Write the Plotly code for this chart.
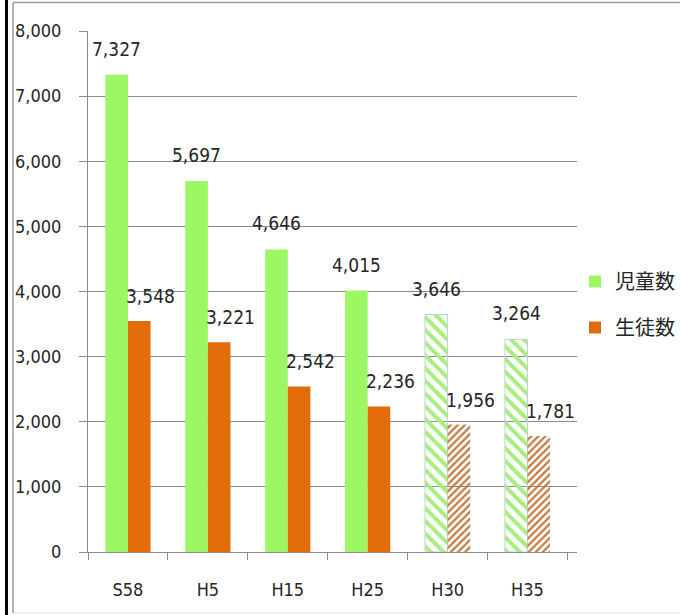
import plotly.graph_objects as go

categories = ["S58", "H5", "H15", "H25", "H30", "H35"]
children = [7327, 5697, 4646, 4015, 3646, 3264]
students = [3548, 3221, 2542, 2236, 1956, 1781]
series_names = ["児童数", "生徒数"]
projected = [False, False, False, False, True, True]

W, H = 680, 615
L, R, T, B = 88, 103, 31, 63
pw, ph = W - L - R, H - T - B

def px_x(p):
    return (p - L) / pw

def px_y(p):
    return (H - B - p) / ph

green = "#9cf763"
orange = "#e36c0a"
green_hatch = "#a6ee7e"
orange_hatch = "#c47a3e"

num_font = "DejaVu Sans Condensed, Liberation Sans Narrow, Liberation Sans, sans-serif"

fig = go.Figure()
fig.add_trace(go.Bar(
    x=categories, y=children, name=series_names[0], legendgroup="a",
    marker=dict(
        color=[green_hatch if p else green for p in projected],
        line=dict(color=["#b5d8c8" if p else green for p in projected],
                  width=[1 if p else 0 for p in projected]),
        pattern=dict(shape=["\\" if p else "" for p in projected],
                     fillmode="replace", bgcolor="white", size=9, solidity=0.45),
    ),
))
fig.add_trace(go.Bar(
    x=categories, y=students, name=series_names[1], legendgroup="b",
    marker=dict(
        color=[orange_hatch if p else orange for p in projected],
        line=dict(width=0),
        pattern=dict(shape=["/" if p else "" for p in projected],
                     fillmode="replace", bgcolor="white", size=5, solidity=0.45),
    ),
))

for c, v in zip(categories, children):
    fig.add_annotation(x=c, y=v, text=f"{v:,}", showarrow=False, xshift=-11.5,
                       yshift=26, font=dict(family=num_font, size=19, color="#262626"))
for c, v in zip(categories, students):
    fig.add_annotation(x=c, y=v, text=f"{v:,}", showarrow=False, xshift=23,
                       yshift=25, font=dict(family=num_font, size=19, color="#262626"))

shapes = [
    dict(type="line", xref="paper", yref="paper", x0=px_x(6.5), x1=px_x(6.5),
         y0=px_y(0), y1=px_y(615), line=dict(color="black", width=3)),
    dict(type="line", xref="paper", yref="paper", x0=px_x(13), x1=px_x(13),
         y0=px_y(3), y1=px_y(613), line=dict(color="#9a9a9a", width=1.5)),
    dict(type="line", xref="paper", yref="paper", x0=px_x(13), x1=px_x(680),
         y0=px_y(2.5), y1=px_y(2.5), line=dict(color="#9a9a9a", width=1.5)),
    dict(type="line", xref="paper", yref="paper", x0=px_x(13), x1=px_x(680),
         y0=px_y(613), y1=px_y(613), line=dict(color="#dddddd", width=1)),
]

fig.update_layout(
    width=W, height=H,
    margin=dict(l=L, r=R, t=T, b=B, autoexpand=False),
    paper_bgcolor="white", plot_bgcolor="white",
    barmode="group", bargap=0.435, bargroupgap=0,
    shapes=shapes,
    showlegend=True,
    legend=dict(x=px_x(575), y=px_y(262), xanchor="left", yanchor="top",
                traceorder="grouped", tracegroupgap=17,
                font=dict(family="Noto Sans CJK JP", size=20, color="#262626"),
                bgcolor="rgba(0,0,0,0)"),
    xaxis=dict(
        type="category", showline=True, linecolor="#8c8c8c", linewidth=1,
        ticks="outside", tickson="boundaries", ticklen=7, tickcolor="#8c8c8c",
        showgrid=False, ticklabelstandoff=21,
        tickfont=dict(family=num_font, size=18, color="#262626"),
    ),
    yaxis=dict(
        range=[0, 8000], dtick=1000, tickformat=",",
        showline=True, linecolor="#8c8c8c", linewidth=1,
        ticks="outside", ticklen=8, tickcolor="#8c8c8c",
        showgrid=True, gridcolor="#8c8c8c", gridwidth=1, zeroline=False,
        ticklabelstandoff=14,
        tickfont=dict(family=num_font, size=18, color="#262626"),
    ),
)

fig.write_html("out.html")
